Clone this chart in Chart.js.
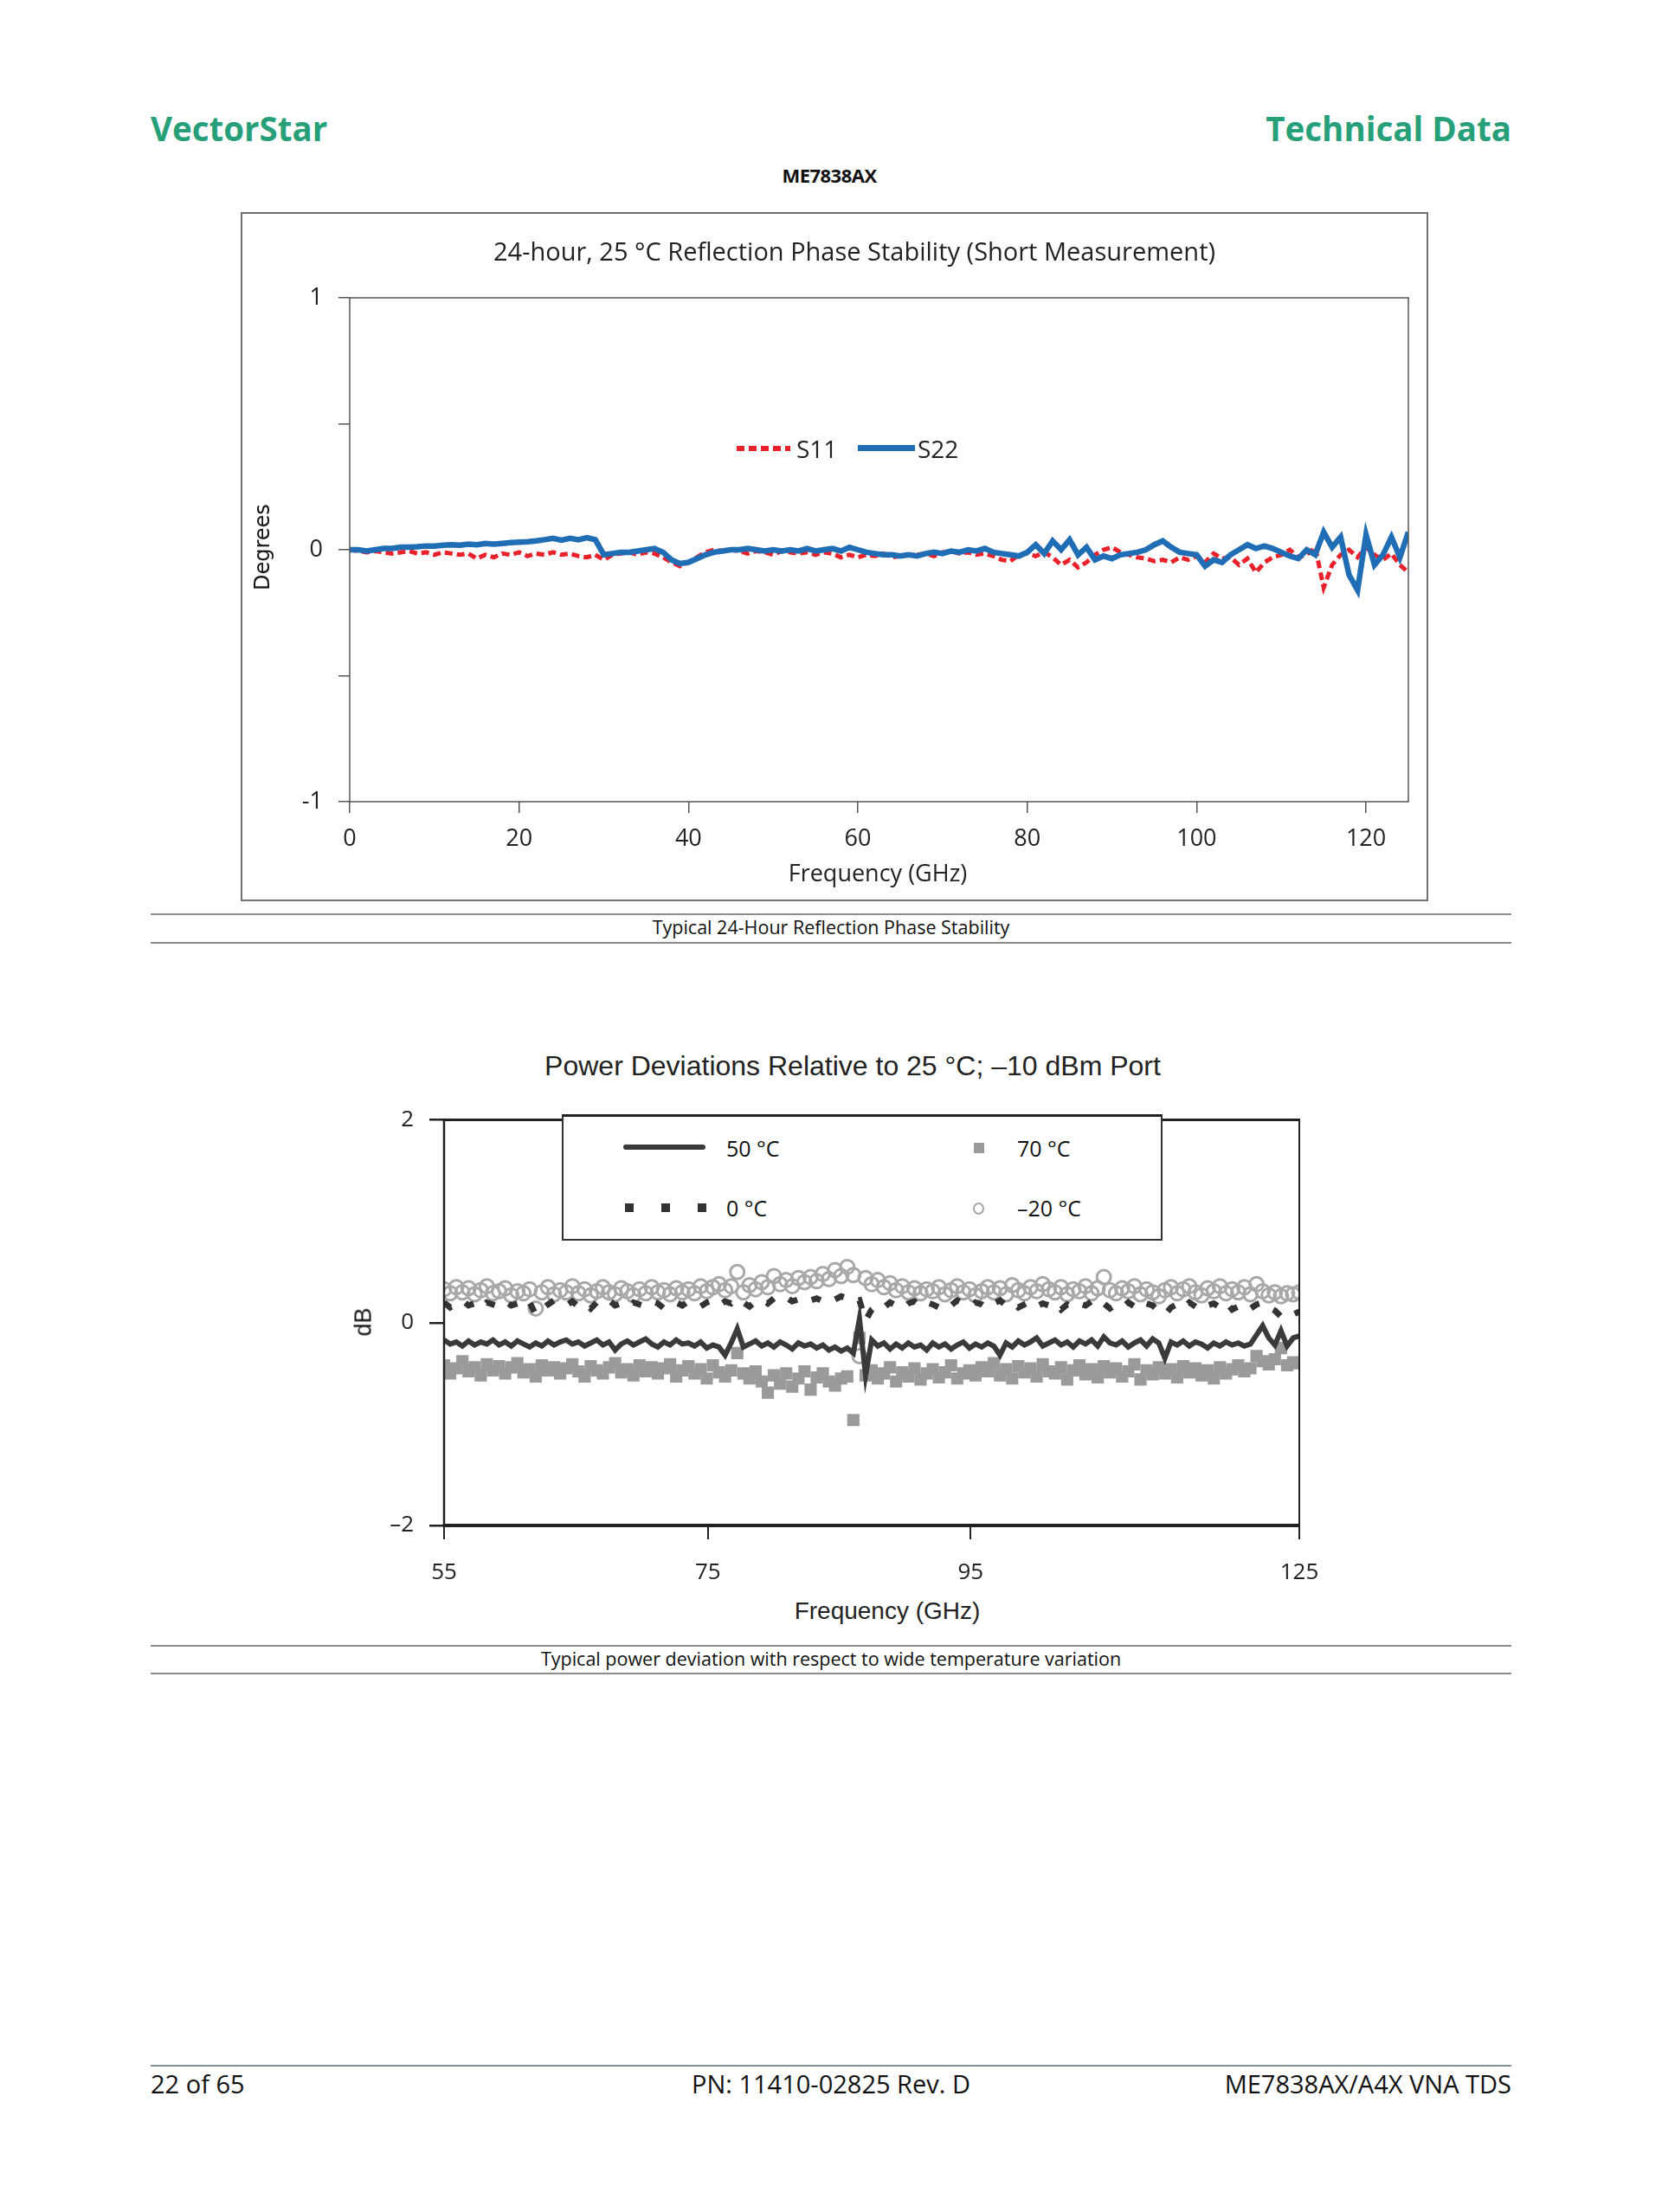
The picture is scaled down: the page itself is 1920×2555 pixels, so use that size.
<!DOCTYPE html>
<html>
<head>
<meta charset="utf-8">
<script src="https://cdn.jsdelivr.net/npm/chart.js@4.4.1/dist/chart.umd.min.js"></script>
<style>
  body { margin: 0; width: 1920px; height: 2555px; position: relative; overflow: hidden; background: #fff; font-family: "Open Sans", sans-serif; color: #111; }
  .t { position: absolute; white-space: nowrap; line-height: 1; }
  .l { transform: translateY(-50%); }
  .c { transform: translate(-50%, -50%); }
  .r { transform: translate(-100%, -50%); }
  .rule { position: absolute; left: 174px; width: 1572px; height: 0; border-top: 2px solid #8c8c8c; }
  .head { font-weight: 700; font-size: 38.5px; color: #27a07a; }
  .cap { font-size: 21.5px; }
  .foot { font-size: 29px; }
  .mark { position: absolute; }
</style>
</head>
<body>

<div class="t l head" style="left:174px;top:148px">VectorStar</div>
<div class="t r head" style="left:1746px;top:148px">Technical Data</div>
<div class="t c" style="left:958px;top:202px;font-weight:700;font-size:22px;letter-spacing:-0.5px">ME7838AX</div>

<!-- chart 1 -->
<div style="position:absolute;left:278px;top:245px;width:1372px;height:796px;border:2px solid #707070;box-sizing:border-box"></div>
<canvas id="phase" style="position:absolute;left:279px;top:246px"></canvas>
<div class="t c" style="left:987px;top:289px;font-size:29px;color:#222">24-hour, 25 °C Reflection Phase Stability (Short Measurement)</div>
<div class="t c" style="left:303px;top:632px;font-size:24px;font-family:'DejaVu Sans',sans-serif;transform:translate(-50%,-50%) rotate(-90deg)">Degrees</div>
<div class="t c" style="left:1014px;top:1007px;font-size:27px;color:#222">Frequency (GHz)</div>
<div class="mark" style="left:851px;top:515px;width:62px;height:6px;background:repeating-linear-gradient(90deg,#e8212b 0 9px,transparent 9px 14px)"></div>
<div class="t l" style="left:920px;top:518px;font-size:28px;color:#222">S11</div>
<div class="mark" style="left:991px;top:514px;width:66px;height:7px;background:#1f6db5"></div>
<div class="t l" style="left:1060px;top:518px;font-size:28px;color:#222">S22</div>

<div class="rule" style="top:1055px"></div>
<div class="t c cap" style="left:960px;top:1071px">Typical 24-Hour Reflection Phase Stability</div>
<div class="rule" style="top:1088px"></div>

<!-- chart 2 -->
<canvas id="power" style="position:absolute;left:400px;top:1260px"></canvas>
<div class="t c" style="left:985px;top:1231px;font-size:32px;font-family:'Liberation Sans',Arial,sans-serif;color:#222">Power Deviations Relative to 25 °C; –10 dBm Port</div>
<div class="t c" style="left:420px;top:1527px;font-size:27px;font-family:'Liberation Sans',Arial,sans-serif;transform:translate(-50%,-50%) rotate(-90deg)">dB</div>
<div class="t c" style="left:1025px;top:1861px;font-size:28px;font-family:'Liberation Sans',Arial,sans-serif;color:#222">Frequency (GHz)</div>

<div style="position:absolute;left:649px;top:1287px;width:694px;height:146px;border:2px solid #333;border-top:3px solid #222;box-sizing:border-box;background:#fff"></div>
<div class="mark" style="left:720px;top:1322px;width:95px;height:6px;border-radius:3px;background:#3a3a3a"></div>
<div class="t l" style="left:839px;top:1326px;font-size:25px">50 °C</div>
<div class="mark" style="left:1125px;top:1320px;width:12px;height:12px;background:#9a9a9a"></div>
<div class="t l" style="left:1175px;top:1326px;font-size:25px">70 °C</div>
<div class="mark" style="left:722px;top:1390px;width:94px;height:10px;background:repeating-linear-gradient(90deg,#333 0 10px,transparent 10px 42px)"></div>
<div class="t l" style="left:839px;top:1395px;font-size:25px">0 °C</div>
<div class="mark" style="left:1124px;top:1389px;width:9px;height:10px;border:2.5px solid #a8a8a8;border-radius:50%"></div>
<div class="t l" style="left:1175px;top:1395px;font-size:25px">–20 °C</div>

<div class="rule" style="top:1900px"></div>
<div class="t c cap" style="left:960px;top:1916px">Typical power deviation with respect to wide temperature variation</div>
<div class="rule" style="top:1932px"></div>

<div class="rule" style="top:2385px;border-top-color:#7b9497"></div>
<div class="t l foot" style="left:174px;top:2406px">22 of 65</div>
<div class="t c foot" style="left:960px;top:2406px">PN: 11410-02825 Rev. D</div>
<div class="t r foot" style="left:1746px;top:2406px">ME7838AX/A4X VNA TDS</div>

<script>
// chart 1: phase stability, one point per GHz from 0 to 125
const phaseFreq = Array.from({ length: 126 }, (_, i) => i);
const s11 = [
  0.0, -0.005, -0.01, -0.005, -0.01, -0.015, -0.01, -0.005, -0.015, -0.01,
  -0.02, -0.01, -0.015, -0.02, -0.015, -0.035, -0.02, -0.03, -0.015, -0.02,
  -0.01, -0.025, -0.015, -0.02, -0.01, -0.02, -0.015, -0.025, -0.03, -0.02,
  -0.04, -0.02, -0.015, -0.01, -0.02, -0.01, -0.015, -0.03, -0.05, -0.065,
  -0.05, -0.03, -0.01, 0.0, -0.005, 0.0, -0.005, -0.015, -0.005, -0.01,
  -0.02, -0.005, -0.01, -0.015, -0.01, -0.02, -0.01, -0.015, -0.03, -0.02,
  -0.03, -0.02, -0.025, -0.015, -0.03, -0.025, -0.02, -0.02, -0.015, -0.025,
  -0.01, -0.005, -0.015, -0.01, -0.02, -0.015, -0.025, -0.04, -0.045, -0.02,
  -0.015, -0.025, -0.01, -0.03, -0.06, -0.04, -0.07, -0.05, -0.02, 0.0,
  0.01, -0.01, -0.02, -0.03, -0.035, -0.045, -0.04, -0.05, -0.03, -0.04,
  -0.025, -0.05, -0.015, -0.035, -0.03, -0.06, -0.035, -0.09, -0.05, -0.03,
  -0.02, 0.0, -0.03, -0.02, 0.01, -0.15, -0.06, -0.02, 0.0, -0.03,
  0.01, -0.02, -0.04, -0.015, -0.06, -0.09
];
const s22 = [
  0.0, 0.0, -0.005, 0.0, 0.005, 0.005, 0.01, 0.01, 0.012, 0.015,
  0.015, 0.018, 0.02, 0.018, 0.022, 0.02, 0.025, 0.022, 0.025, 0.028,
  0.03, 0.032, 0.035, 0.04, 0.045, 0.038, 0.045, 0.04, 0.048, 0.04,
  -0.02, -0.015, -0.01, -0.01, -0.005, 0.0, 0.005, -0.01, -0.04, -0.055,
  -0.05, -0.035, -0.02, -0.01, -0.005, 0.0, 0.0, 0.005, 0.0, -0.005,
  0.0, -0.005, 0.0, -0.005, 0.005, -0.005, 0.0, 0.005, -0.005, 0.01,
  0.0, -0.01, -0.015, -0.02, -0.02, -0.025, -0.02, -0.025, -0.015, -0.01,
  -0.015, -0.005, -0.01, 0.0, -0.005, 0.005, -0.01, -0.015, -0.02, -0.025,
  -0.01, 0.02, -0.015, 0.035, 0.0, 0.04, -0.02, 0.01, -0.04, -0.025,
  -0.035, -0.02, -0.015, -0.01, 0.0, 0.02, 0.035, 0.01, -0.01, -0.015,
  -0.02, -0.065, -0.04, -0.05, -0.02, 0.0, 0.02, 0.005, 0.015, 0.005,
  -0.01, -0.025, -0.035, 0.0, -0.02, 0.07, 0.01, 0.05, -0.1, -0.16,
  0.06, -0.06, -0.02, 0.05, -0.03, 0.07
];
const phaseTicks = [-1, -0.5, 0, 0.5, 1];

// chart 2: power deviation, one point per 0.5 GHz from 55 to 125
const powerFreq = Array.from({ length: 141 }, (_, i) => 55 + i * 0.5);
const dev50 = [
  -0.17, -0.21, -0.19, -0.23, -0.18, -0.22, -0.19, -0.21, -0.17, -0.22,
  -0.19, -0.23, -0.18, -0.21, -0.24, -0.2, -0.23, -0.18, -0.22, -0.19,
  -0.17, -0.21, -0.19, -0.23, -0.2, -0.17, -0.22, -0.19, -0.27, -0.21,
  -0.18, -0.22, -0.19, -0.16, -0.21, -0.24, -0.19, -0.22, -0.17, -0.21,
  -0.2, -0.23, -0.19, -0.25, -0.22, -0.24, -0.32, -0.2, -0.06, -0.24,
  -0.21, -0.18, -0.23, -0.2, -0.24, -0.19, -0.22, -0.26, -0.2, -0.23,
  -0.21, -0.25, -0.22, -0.27, -0.24, -0.28, -0.25, -0.3, 0.04, -0.52,
  -0.17, -0.23, -0.2, -0.26, -0.21, -0.25, -0.2, -0.24, -0.22, -0.27,
  -0.2, -0.24, -0.21, -0.26, -0.22, -0.19, -0.25, -0.21, -0.24, -0.2,
  -0.23, -0.32, -0.2, -0.24, -0.18, -0.22, -0.19, -0.15, -0.23, -0.2,
  -0.17, -0.22, -0.19, -0.24, -0.18, -0.21, -0.17, -0.23, -0.14, -0.2,
  -0.22, -0.18, -0.24, -0.2, -0.17, -0.23, -0.16, -0.2, -0.35, -0.19,
  -0.22, -0.18, -0.23, -0.19, -0.21, -0.25, -0.2, -0.23, -0.19, -0.22,
  -0.2, -0.23, -0.21, -0.12, -0.03, -0.15, -0.22, -0.08, -0.23, -0.15,
  -0.13
];
const dev70 = [
  -0.42, -0.5, -0.45, -0.38, -0.48, -0.44, -0.52, -0.41, -0.47, -0.43,
  -0.5, -0.44, -0.4, -0.49, -0.46, -0.53, -0.42, -0.47, -0.44, -0.5,
  -0.45, -0.41, -0.48, -0.53, -0.43, -0.47, -0.5, -0.44, -0.4, -0.49,
  -0.46, -0.52, -0.42, -0.48, -0.44, -0.5, -0.45, -0.41, -0.53, -0.47,
  -0.43, -0.5, -0.46, -0.55, -0.42, -0.49, -0.53, -0.47, -0.3, -0.5,
  -0.55, -0.48, -0.58, -0.69, -0.52, -0.6, -0.5, -0.63, -0.55, -0.48,
  -0.66, -0.54, -0.5, -0.58, -0.62, -0.55, -0.53, -0.96, -0.15, -0.52,
  -0.47, -0.55, -0.5, -0.44, -0.58, -0.49, -0.53, -0.45, -0.56, -0.5,
  -0.46, -0.54, -0.49, -0.42, -0.55, -0.5, -0.47, -0.52, -0.44, -0.48,
  -0.4, -0.52, -0.46, -0.55, -0.43, -0.49, -0.45, -0.53, -0.41, -0.48,
  -0.5, -0.44, -0.56, -0.47, -0.42, -0.51, -0.46, -0.54, -0.43, -0.49,
  -0.45, -0.53, -0.48, -0.41, -0.56, -0.47, -0.51, -0.44, -0.5, -0.46,
  -0.54, -0.43, -0.49, -0.45, -0.52, -0.47, -0.55, -0.44, -0.5, -0.46,
  -0.42, -0.48, -0.45, -0.33, -0.38, -0.41, -0.36, -0.25, -0.42, -0.39,
  -0.4
];
const dev0 = [
  0.2, 0.15, 0.18, 0.22, 0.17, 0.19, 0.14, 0.2, 0.18, 0.16,
  0.21, 0.17, 0.19, 0.15, 0.2, 0.08, 0.13, 0.18, 0.22, 0.2,
  0.17, 0.21, 0.16, 0.19, 0.14, 0.2, 0.18, 0.22, 0.17, 0.19,
  0.15, 0.2, 0.18, 0.16, 0.21, 0.19, 0.14, 0.18, 0.2, 0.17,
  0.21, 0.18, 0.16, 0.2, 0.22, 0.17, 0.21, 0.19, 0.24, 0.2,
  0.16, 0.21, 0.23, 0.19, 0.24, 0.22, 0.25, 0.21, 0.23, 0.26,
  0.22, 0.24, 0.21, 0.25, 0.23, 0.26, 0.24, 0.2, 0.22, 0.02,
  0.13, 0.18, 0.15, 0.2, 0.17, 0.14, 0.19, 0.21, 0.16, 0.2,
  0.18, 0.15, 0.2, 0.17, 0.22, 0.19, 0.16, 0.2, 0.18, 0.14,
  0.19, 0.22, 0.17, 0.2, 0.15, 0.18, 0.21, 0.16, 0.19, 0.17,
  0.2, 0.13, 0.18, 0.15, 0.19, 0.17, 0.21, 0.16, 0.19, 0.14,
  0.18, 0.15, 0.2, 0.16, 0.13, 0.19, 0.17, 0.11, 0.08, 0.15,
  0.18, 0.14, 0.2, 0.16, 0.12, 0.17, 0.19, 0.15, 0.2, 0.13,
  0.16, 0.19, 0.14, 0.18, 0.2, 0.15, 0.12, 0.06, 0.1, 0.08,
  0.11
];
const devMinus20 = [
  0.33, 0.29, 0.35, 0.3, 0.34, 0.28, 0.32, 0.36, 0.29, 0.31,
  0.34, 0.27, 0.31, 0.29, 0.33, 0.14, 0.3, 0.35, 0.28, 0.32,
  0.3, 0.36, 0.29, 0.33, 0.27, 0.31, 0.35, 0.3, 0.28, 0.34,
  0.31, 0.27, 0.33, 0.29, 0.35, 0.3, 0.32, 0.28, 0.34, 0.3,
  0.33, 0.29, 0.36, 0.31, 0.35, 0.38, 0.32, 0.36, 0.5, 0.3,
  0.37, 0.33, 0.4, 0.35, 0.46, 0.38, 0.42, 0.36, 0.44, 0.4,
  0.45, 0.41, 0.48, 0.43, 0.52, 0.46, 0.55, 0.47, -0.33, 0.44,
  0.38, 0.42, 0.35, 0.39, 0.32, 0.36, 0.3, 0.34, 0.29, 0.33,
  0.31, 0.35, 0.28, 0.32, 0.36, 0.3, 0.33, 0.27, 0.31, 0.35,
  0.3, 0.34, 0.28, 0.37, 0.32, 0.29, 0.35, 0.31, 0.38, 0.33,
  0.3, 0.35, 0.28, 0.33, 0.31, 0.36, 0.29, 0.34, 0.45, 0.32,
  0.29, 0.34, 0.31, 0.36, 0.28, 0.33, 0.3, 0.26, 0.32, 0.35,
  0.29, 0.33, 0.36, 0.3, 0.27, 0.34, 0.31, 0.36, 0.29, 0.33,
  0.3, 0.35, 0.28, 0.38, 0.31, 0.27, 0.3, 0.26, 0.29, 0.28,
  0.3
];
// the source axis labels are not evenly spaced in GHz, so the tick positions are kept as read off the picture
const powerTickValues = [55, 76.6, 98.1, 125];
const powerTickLabels = ['55', '75', '95', '125'];

const pts = (xs, ys) => ys.map((y, i) => ({ x: xs[i], y }));

// draws the box round the plot area, each side with its own width
const frameBox = {
  id: 'frameBox',
  afterDraw(chart, args, opts) {
    const { ctx, chartArea: a } = chart;
    const side = (w, x1, y1, x2, y2) => {
      ctx.lineWidth = w;
      ctx.beginPath();
      ctx.moveTo(x1, y1);
      ctx.lineTo(x2, y2);
      ctx.stroke();
    };
    ctx.save();
    ctx.strokeStyle = opts.color;
    side(opts.top, a.left - opts.left / 2, a.top, a.right + opts.right / 2, a.top);
    side(opts.bottom, a.left - opts.left / 2, a.bottom, a.right + opts.right / 2, a.bottom);
    side(opts.left, a.left, a.top, a.left, a.bottom);
    side(opts.right, a.right, a.top, a.right, a.bottom);
    ctx.restore();
  }
};

const setup = (id, w, h) => {
  const el = document.getElementById(id);
  el.width = w;
  el.height = h;
  el.style.width = w + 'px';
  el.style.height = h + 'px';
  return el;
};

new Chart(setup('phase', 1372, 796), {
  type: 'line',
  data: {
    datasets: [
      { label: 'S11', data: pts(phaseFreq, s11), borderColor: '#e8212b', borderWidth: 5, borderDash: [9, 5], pointRadius: 0, order: 2 },
      { label: 'S22', data: pts(phaseFreq, s22), borderColor: '#1f6db5', borderWidth: 6.5, pointRadius: 0, order: 1 }
    ]
  },
  options: {
    responsive: false,
    devicePixelRatio: 1,
    animation: false,
    layout: { padding: { left: 0, right: 24, top: 98, bottom: 0 } },
    plugins: { legend: { display: false }, tooltip: { enabled: false }, frameBox: { color: '#555', top: 1.5, bottom: 1.5, left: 1.5, right: 1.5 } },
    scales: {
      x: {
        type: 'linear', min: 0, max: 125,
        afterFit: (s) => { s.height = 116; },
        afterBuildTicks: (s) => { s.ticks = [0, 20, 40, 60, 80, 100, 120].map((v) => ({ value: v })); },
        border: { display: false },
        grid: { drawOnChartArea: false, tickLength: 13, color: '#555', lineWidth: 1.5 },
        ticks: { font: { family: 'Open Sans', size: 27 }, color: '#222', padding: 14, maxRotation: 0 }
      },
      y: {
        min: -1, max: 1,
        afterFit: (s) => { s.width = 125; },
        afterBuildTicks: (s) => { s.ticks = phaseTicks.map((v) => ({ value: v })); },
        border: { display: false },
        grid: { drawOnChartArea: false, tickLength: 13, color: '#555', lineWidth: 1.5 },
        ticks: { font: { family: 'Open Sans', size: 27 }, color: '#222', padding: 18, callback: (v) => (Number.isInteger(v) ? String(v) : '') }
      }
    }
  },
  plugins: [frameBox]
});

new Chart(setup('power', 1160, 580), {
  type: 'line',
  data: {
    datasets: [
      { label: '50 °C', data: pts(powerFreq, dev50), borderColor: '#3a3a3a', borderWidth: 6, pointRadius: 0 },
      { label: '70 °C', data: pts(powerFreq, dev70), showLine: false, pointStyle: 'rect', pointRadius: 10, backgroundColor: '#9a9a9a', borderWidth: 0 },
      { label: '0 °C', data: pts(powerFreq, dev0), borderColor: '#333', borderWidth: 7, borderDash: [11, 19], pointRadius: 0 },
      { label: '–20 °C', data: pts(powerFreq, devMinus20), showLine: false, pointStyle: 'circle', pointRadius: 8, borderColor: '#a8a8a8', borderWidth: 3, backgroundColor: 'rgba(0,0,0,0)' }
    ]
  },
  options: {
    responsive: false,
    devicePixelRatio: 1,
    animation: false,
    layout: { padding: { left: 0, right: 59, top: 29, bottom: 0 } },
    plugins: { legend: { display: false }, tooltip: { enabled: false }, frameBox: { color: '#222', top: 3, bottom: 4, left: 2.5, right: 2 } },
    scales: {
      x: {
        type: 'linear', min: 55, max: 125,
        afterFit: (s) => { s.height = 78; },
        afterBuildTicks: (s) => { s.ticks = powerTickValues.map((v) => ({ value: v })); },
        border: { display: false },
        grid: { drawOnChartArea: false, tickLength: 16, color: '#222', lineWidth: 2 },
        ticks: { font: { family: 'Open Sans', size: 26 }, color: '#222', padding: 23, maxRotation: 0, callback: (v, i) => powerTickLabels[i] }
      },
      y: {
        min: -2, max: 2,
        afterFit: (s) => { s.width = 113; },
        afterBuildTicks: (s) => { s.ticks = [-2, 0, 2].map((v) => ({ value: v })); },
        border: { display: false },
        grid: { drawOnChartArea: false, tickLength: 17, color: '#222', lineWidth: 2.5 },
        ticks: { font: { family: 'Open Sans', size: 26 }, color: '#222', padding: 18, callback: (v) => (v < 0 ? '–' + Math.abs(v) : String(v)) }
      }
    }
  },
  plugins: [frameBox]
});
</script>
</body>
</html>
